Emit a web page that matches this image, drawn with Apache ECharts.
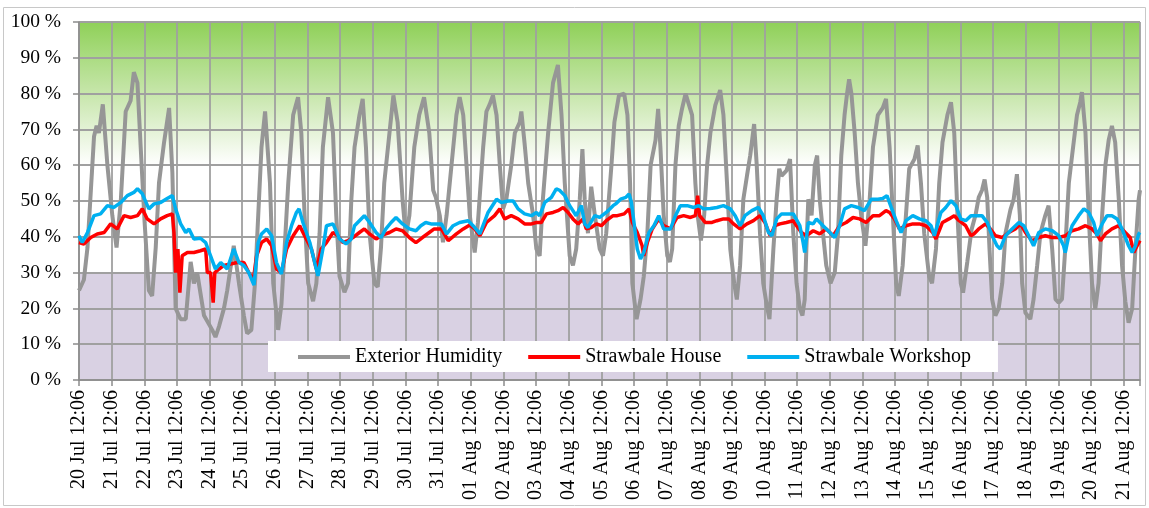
<!DOCTYPE html>
<html>
<head>
<meta charset="utf-8">
<script src="https://cdn.jsdelivr.net/npm/echarts@6/dist/echarts.min.js"></script>
<style>
  html, body { margin: 0; padding: 0; background: #fff; }
  #app { width: 1149px; height: 508px; }
</style>
</head>
<body>
<div id="app"></div>
<script>
// x values are days after 20 Jul 12:06
const tickLabels = [
    '20 Jul 12:06', '21 Jul 12:06', '22 Jul 12:06', '23 Jul 12:06', '24 Jul 12:06', '25 Jul 12:06',
    '26 Jul 12:06', '27 Jul 12:06', '28 Jul 12:06', '29 Jul 12:06', '30 Jul 12:06', '31 Jul 12:06',
    '01 Aug 12:06', '02 Aug 12:06', '03 Aug 12:06', '04 Aug 12:06', '05 Aug 12:06', '06 Aug 12:06',
    '07 Aug 12:06', '08 Aug 12:06', '09 Aug 12:06', '10 Aug 12:06', '11 Aug 12:06', '12 Aug 12:06',
    '13 Aug 12:06', '14 Aug 12:06', '15 Aug 12:06', '16 Aug 12:06', '17 Aug 12:06', '18 Aug 12:06',
    '19 Aug 12:06', '20 Aug 12:06', '21 Aug 12:06'
];

const exteriorHumidity = [
    [0,25],[0.15,28],[0.26,37],[0.46,68],[0.54,71],[0.61,69],[0.73,77],[0.87,60],[1.02,46],[1.15,37],
    [1.28,50],[1.43,75],[1.58,78],[1.68,86],[1.79,83],[1.89,65],[2.01,44],[2.14,25],[2.24,23.5],[2.35,37],
    [2.45,55],[2.6,66],[2.76,76],[2.86,58],[2.96,20],[3.11,17],[3.27,17],[3.42,33],[3.52,27],[3.62,30],
    [3.83,18],[4.08,14],[4.18,12],[4.29,15],[4.44,20],[4.54,25],[4.74,37.5],[4.9,27],[5.05,18],[5.15,13],
    [5.28,14],[5.39,27],[5.49,46],[5.59,65],[5.7,75],[5.85,55],[5.95,27],[6.1,14],[6.2,21],[6.3,37],
    [6.41,55],[6.56,74],[6.71,79],[6.81,69],[6.91,46],[7.02,27],[7.17,22],[7.27,27],[7.37,41],[7.47,65],
    [7.63,79],[7.78,69],[7.88,46],[7.98,29],[8.13,24.5],[8.24,27],[8.34,50],[8.44,65],[8.59,74],[8.69,78.5],
    [8.79,65],[8.9,41],[9.05,27],[9.15,26],[9.25,37],[9.35,55],[9.51,69],[9.63,79.5],[9.76,72],[9.91,50.5],
    [10.01,40],[10.12,46],[10.27,65],[10.42,74],[10.57,79],[10.73,69],[10.85,53],[10.93,51],[11.05,46],[11.15,38.5],
    [11.26,46],[11.41,60],[11.56,74],[11.66,79],[11.77,74],[11.87,60],[11.97,46],[12.12,35.6],[12.22,44],[12.38,65],
    [12.48,75],[12.58,77],[12.68,79.5],[12.79,74],[12.89,60],[12.99,47.8],[13.09,50.5],[13.24,60],[13.35,69],[13.5,72],
    [13.55,75],[13.65,66],[13.76,55],[13.91,46],[14.01,36.6],[14.11,34.7],[14.21,50.5],[14.37,69],[14.52,83],[14.67,88],
    [14.78,74],[14.88,55],[15.03,34.7],[15.13,32],[15.23,36.6],[15.34,50.5],[15.42,64.5],[15.49,50.5],[15.59,41],[15.69,54],
    [15.8,46],[15.95,36.6],[16.05,34.7],[16.15,41],[16.31,60],[16.4,72],[16.54,79.5],[16.7,80],[16.8,74],[16.88,55],
    [16.95,27],[17.08,17],[17.2,22.5],[17.3,29],[17.41,41],[17.51,60],[17.66,67],[17.74,75.7],[17.81,65],[17.91,46],
    [18.02,34.7],[18.1,33],[18.17,36.6],[18.27,60],[18.37,71],[18.47,75.7],[18.58,80],[18.68,77],[18.78,74],[18.88,55],
    [18.95,46],[19.05,39],[19.15,46],[19.24,60],[19.34,69],[19.49,76.7],[19.64,81],[19.74,74],[19.85,55],[19.95,36.6],
    [20.07,27],[20.15,22.5],[20.25,32],[20.35,50.5],[20.46,57],[20.56,62.7],[20.68,71.5],[20.76,60],[20.86,41],[20.96,27],
    [21.07,20.7],[21.15,17],[21.27,36.6],[21.37,50.5],[21.45,59],[21.52,57],[21.67,58.5],[21.78,61.7],[21.88,41],[21.98,27],
    [22.08,20],[22.16,18],[22.23,22.5],[22.28,36.5],[22.34,50.5],[22.44,46],[22.54,60],[22.61,62.7],[22.69,50.5],[22.79,41],
    [22.89,32],[23.02,27],[23.15,30],[23.25,41],[23.35,62.7],[23.45,74],[23.52,79.5],[23.59,84],[23.66,80],[23.76,69],
    [23.86,55],[23.96,46],[24.09,37.5],[24.22,50.5],[24.32,65],[24.47,74],[24.62,76],[24.72,78.5],[24.83,65],[24.93,46],
    [25.03,27],[25.11,23.5],[25.23,32],[25.33,46],[25.43,59],[25.59,61.7],[25.69,65.5],[25.79,55],[25.89,41],[26.04,29],
    [26.13,27],[26.25,36.6],[26.35,55],[26.45,66.4],[26.6,74],[26.71,77.6],[26.81,69],[26.91,46],[27.01,27],[27.08,24.4],
    [27.21,33],[27.34,42],[27.46,46],[27.56,51],[27.66,53],[27.74,56],[27.82,51],[27.89,36.6],[27.97,22.6],[28.07,18],
    [28.17,20],[28.28,27],[28.38,41],[28.53,47.5],[28.63,50.5],[28.73,57.5],[28.82,46],[28.89,27],[28.99,18.8],[29.14,17],
    [29.24,22.6],[29.35,32],[29.45,41],[29.6,46],[29.7,48.7],[29.81,36.6],[29.91,22.6],[30.01,21.6],[30.11,22.6],[30.21,36.6],
    [30.32,55],[30.42,62.7],[30.57,74],[30.67,77.6],[30.72,80.4],[30.83,69],[30.93,46],[31.03,27],[31.13,19.8],[31.23,27],
    [31.34,46],[31.44,60],[31.54,67],[31.64,71],[31.74,66.4],[31.85,50.5],[31.95,32],[32.05,22],[32.15,16],[32.26,20],
    [32.36,36.6],[32.46,50.5],[32.5,53]
];

const strawbaleHouse = [
    [0,38.4],[0.15,38],[0.36,39.8],[0.56,40.8],[0.77,41.2],[0.97,43.6],[1.17,42.2],[1.38,45.9],[1.58,45.4],[1.79,45.9],
    [1.94,47.8],[2.09,45],[2.3,43.6],[2.5,45],[2.7,45.9],[2.86,46.4],[2.91,41],[2.96,30],[3.03,36.6],[3.09,24.4],
    [3.16,34.7],[3.32,35.6],[3.52,35.6],[3.72,36.1],[3.88,36.6],[3.93,30],[4.03,30],[4.11,21.6],[4.16,30],[4.29,31],
    [4.44,32],[4.64,32.4],[4.85,32.8],[5.05,32.8],[5.2,30],[5.34,28],[5.44,34.7],[5.59,38.4],[5.75,39.4],[5.9,37.5],
    [6.05,31],[6.2,30],[6.36,36.6],[6.56,40.3],[6.76,43.1],[6.91,40.3],[7.12,36.6],[7.27,31],[7.42,36.6],[7.58,38.4],
    [7.78,41.2],[7.93,40.3],[8.08,38.4],[8.24,38.9],[8.39,39.8],[8.59,41.2],[8.74,42.2],[8.9,40.8],[9.1,39.4],[9.25,40.3],
    [9.51,41.2],[9.71,42.2],[9.91,41.7],[10.12,39.8],[10.32,38.4],[10.52,39.8],[10.73,41.2],[10.88,42.2],[11.1,42.2],[11.31,38.9],
    [11.56,40.8],[11.77,42.2],[11.97,43.3],[12.12,42.2],[12.28,40.3],[12.48,44],[12.73,45.9],[12.89,47.8],[13.04,45],[13.24,45.9],
    [13.45,45],[13.65,43.6],[13.86,43.6],[14.01,44],[14.16,44],[14.32,46.4],[14.52,46.8],[14.67,47.3],[14.83,48.2],[14.98,46.8],
    [15.13,45],[15.29,43.6],[15.44,45],[15.54,42.2],[15.69,42.6],[15.85,43.6],[16,43.1],[16.15,44.5],[16.36,45.9],[16.49,45.9],
    [16.7,46.4],[16.85,47.8],[16.95,44],[17.1,41.2],[17.25,37.5],[17.3,34.7],[17.41,38.4],[17.56,42.2],[17.76,45],[17.91,43.1],
    [18.12,42.2],[18.32,45.4],[18.52,45.9],[18.73,45.4],[18.88,45.9],[18.95,51.5],[19.01,45.9],[19.18,44],[19.39,44],[19.54,44.5],
    [19.74,45],[19.9,45],[20.05,43.6],[20.25,42.2],[20.46,43.6],[20.66,44.5],[20.86,45.9],[21.01,44],[21.17,40.3],[21.32,43.1],
    [21.47,43.6],[21.67,44],[21.88,44.5],[21.98,43.1],[22.13,41.2],[22.28,40.3],[22.49,41.7],[22.69,40.8],[22.89,42.2],[23.1,40.3],
    [23.3,43.1],[23.5,44],[23.71,45.4],[23.91,45],[24.11,44],[24.32,45.9],[24.52,45.9],[24.72,47.3],[24.83,46.8],[24.98,45],
    [25.13,42.2],[25.33,43.1],[25.54,43.6],[25.74,43.6],[25.94,43.1],[26.15,41.2],[26.25,39.4],[26.45,44],[26.65,45],[26.81,45.9],
    [26.96,44.5],[27.16,43.1],[27.32,40.3],[27.41,40.8],[27.56,42.2],[27.77,43.6],[27.92,42.2],[28.07,40.3],[28.28,39.8],[28.48,41.2],
    [28.68,42.2],[28.84,43.6],[28.99,41.2],[29.19,38.9],[29.4,39.8],[29.6,40.3],[29.81,39.8],[30.01,39.8],[30.22,40.3],[30.42,41.7],
    [30.62,42.2],[30.83,43.1],[31.03,42.2],[31.18,40.8],[31.29,38.9],[31.44,40.8],[31.64,42.2],[31.85,43.1],[32.05,41.2],[32.2,39.8],
    [32.31,35.6],[32.41,37.5],[32.5,38.9]
];

const strawbaleWorkshop = [
    [0,40.3],[0.1,38.4],[0.26,41.2],[0.46,45.9],[0.66,46.4],[0.87,48.7],[1.07,48.2],[1.28,49.6],[1.48,51.5],[1.68,52.4],
    [1.79,53.4],[1.94,52],[2.14,47.8],[2.3,49.2],[2.5,49.6],[2.7,50.7],[2.86,51.5],[2.96,47.8],[3.11,43.7],[3.27,41.2],
    [3.37,42.2],[3.52,39.4],[3.72,39.6],[3.88,38.4],[4.03,34.7],[4.18,31],[4.34,32.8],[4.54,31],[4.74,36.6],[4.9,32.8],
    [5.05,32],[5.2,30],[5.36,26.5],[5.49,38.4],[5.59,40.8],[5.75,42.2],[5.9,40.3],[6.05,32.8],[6.2,29.6],[6.36,38.4],
    [6.51,43.1],[6.66,46.8],[6.74,47.8],[6.86,44],[7.07,38.4],[7.22,32.8],[7.32,29.1],[7.47,36.6],[7.58,43.1],[7.78,43.6],
    [7.98,39.4],[8.18,38],[8.34,39.4],[8.44,43.1],[8.59,44.5],[8.74,45.9],[8.9,44],[9.1,41.2],[9.25,39.8],[9.4,42.2],
    [9.56,44],[9.71,45.4],[9.91,43.6],[10.12,42.2],[10.32,41.7],[10.47,43.1],[10.62,44],[10.78,43.6],[10.95,43.6],[11.1,43.6],
    [11.26,40.8],[11.46,43.1],[11.66,44],[11.92,44.5],[12.07,43.1],[12.28,40.8],[12.53,46.8],[12.79,50.5],[12.94,49.6],[13.14,50],
    [13.3,50],[13.45,47.8],[13.65,46.4],[13.86,45.9],[14.01,46.8],[14.11,45.9],[14.27,49.6],[14.47,51],[14.62,53.4],[14.72,53],
    [14.88,51.5],[15.03,48.7],[15.23,45.9],[15.39,48.7],[15.49,43.6],[15.59,42.6],[15.8,45.9],[15.95,45.4],[16.15,46.8],[16.36,48.7],
    [16.44,49.2],[16.59,50.5],[16.75,51],[16.85,52],[16.92,49.6],[17,44],[17.1,36.6],[17.2,33.8],[17.3,35.6],[17.46,41.2],
    [17.61,43.1],[17.76,45.9],[17.91,42.2],[18.12,42.2],[18.27,45.9],[18.42,48.7],[18.63,48.7],[18.83,48.2],[18.98,48.7],[19.13,47.8],
    [19.34,47.9],[19.54,48.2],[19.74,48.7],[19.95,47.8],[20.1,45.9],[20.25,43.1],[20.4,45.9],[20.61,47.3],[20.81,48.2],[20.96,45.9],
    [21.12,41.2],[21.22,40.3],[21.37,45],[21.52,46.4],[21.67,46.4],[21.88,46.4],[22.08,43.1],[22.18,38.4],[22.23,35.6],[22.34,44],
    [22.49,43.6],[22.59,45],[22.79,43.1],[23,41.2],[23.15,39.8],[23.3,43.1],[23.45,47.8],[23.66,48.7],[23.86,48.2],[24.06,47.3],
    [24.27,50.5],[24.47,50.5],[24.62,50.7],[24.75,51.5],[24.88,48.2],[25.03,44.5],[25.18,41.2],[25.33,44.5],[25.54,45.9],[25.74,45],
    [25.94,44.5],[26.1,43.1],[26.2,40.3],[26.4,46.8],[26.55,48.2],[26.71,50.1],[26.86,48.7],[27.01,45],[27.16,44.5],[27.32,45.9],
    [27.46,45.9],[27.66,45.9],[27.82,44],[27.97,40.3],[28.12,37.5],[28.22,36.6],[28.38,40.3],[28.58,42.2],[28.79,44],[28.94,43.1],
    [29.09,40.3],[29.24,37.5],[29.4,41.2],[29.6,42.2],[29.81,41.7],[30.01,40.3],[30.16,37.5],[30.21,35.6],[30.32,40.3],[30.42,43.1],
    [30.62,45.9],[30.78,47.8],[30.93,46.8],[31.08,44],[31.18,40.3],[31.34,43.6],[31.49,45.9],[31.64,45.9],[31.8,45],[31.95,42.2],
    [32.15,37.5],[32.26,35.6],[32.36,37.5],[32.46,40.8],[32.5,41.2]
];

const serif = '"Liberation Serif", "Times New Roman", serif';

// one fill per 10 % band, bottom to top: lavender, white, then green fading up
function band(top, bottom) {
    return new echarts.graphic.LinearGradient(0, 0, 0, 1, [
        { offset: 0, color: top },
        { offset: 1, color: bottom }
    ]);
}
const bandColors = [
    '#d9d1e3', '#d9d1e3', '#d9d1e3',
    '#ffffff', '#ffffff', '#ffffff',
    band('#e3f2d5', '#ffffff'),
    band('#c7e6ab', '#e3f2d5'),
    band('#abdc82', '#c7e6ab'),
    band('#8fd058', '#abdc82')
];

const myChart = echarts.init(document.getElementById('app'));

myChart.setOption({
    animation: false,
    graphic: [{
        type: 'rect',
        silent: true,
        shape: { x: 3.5, y: 7.5, width: 1142, height: 498 },
        style: { fill: 'none', stroke: '#c8c8c8', lineWidth: 1 }
    }],
    grid: {
        left: 79,
        right: 9,
        top: 22,
        bottom: 128,
        containLabel: false,
        outerBoundsMode: 'none'
    },
    legend: {
        left: 268,
        top: 341,
        padding: [6, 27, 5, 30],
        backgroundColor: '#ffffff',
        itemGap: 26,
        itemWidth: 52,
        itemHeight: 4,
        icon: 'rect',
        textStyle: { fontFamily: serif, fontSize: 20, color: '#000' },
        data: ['Exterior Humidity', 'Strawbale House', 'Strawbale Workshop']
    },
    xAxis: {
        type: 'value',
        min: 0,
        max: 32.5,
        interval: 1,
        axisLine: { show: true, lineStyle: { color: '#8c8c8c', width: 1.5 } },
        axisTick: { show: true, length: 6, lineStyle: { color: '#8c8c8c', width: 1.5 } },
        splitLine: { show: true, lineStyle: { color: '#a0a0a0', width: 1.8 } },
        axisLabel: {
            rotate: 90,
            margin: 10,
            fontFamily: serif,
            fontSize: 20,
            color: '#000',
            hideOverlap: false,
            formatter: function (v) {
                return Number.isInteger(v) && tickLabels[v] ? tickLabels[v] : '';
            }
        }
    },
    yAxis: {
        type: 'value',
        min: 0,
        max: 100,
        interval: 10,
        axisLine: { show: true, lineStyle: { color: '#8c8c8c', width: 1.5 } },
        axisTick: { show: true, length: 6, lineStyle: { color: '#8c8c8c', width: 1.5 } },
        splitLine: { show: true, lineStyle: { color: '#a0a0a0', width: 1.8 } },
        splitArea: { show: true, areaStyle: { color: bandColors } },
        axisLabel: {
            margin: 18,
            fontFamily: serif,
            fontSize: 19.5,
            color: '#000',
            formatter: '{value} %'
        }
    },
    series: [{
        name: 'Exterior Humidity',
        type: 'line',
        data: exteriorHumidity,
        showSymbol: false,
        color: '#969696',
        lineStyle: { width: 4, color: '#969696' },
        z: 2
    }, {
        name: 'Strawbale House',
        type: 'line',
        data: strawbaleHouse,
        showSymbol: false,
        color: '#ff0000',
        lineStyle: { width: 3.5, color: '#ff0000' },
        z: 3
    }, {
        name: 'Strawbale Workshop',
        type: 'line',
        data: strawbaleWorkshop,
        showSymbol: false,
        color: '#00b0f0',
        lineStyle: { width: 3.5, color: '#00b0f0' },
        z: 4
    }]
});
</script>
</body>
</html>
